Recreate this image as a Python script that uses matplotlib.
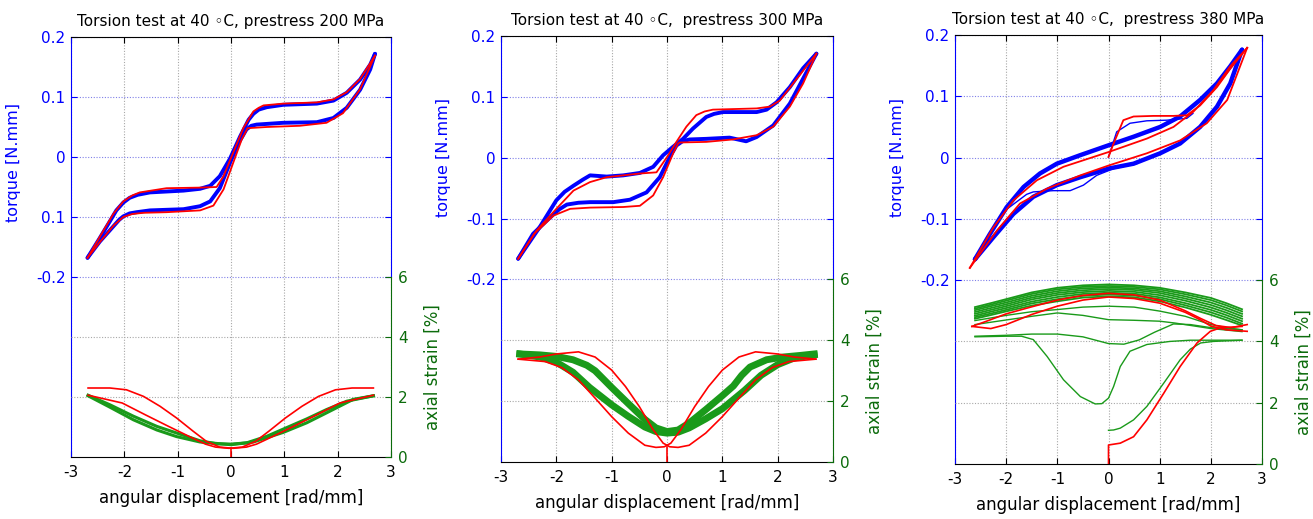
import matplotlib
matplotlib.use("Agg")
import matplotlib.pyplot as plt

BLUE = "#0000ff"
RED = "#ff0000"
GREEN = "#1a9a1a"
DGREEN = "#0b6b0b"

titles = ["Torsion test at 40 \u25e6C, prestress 200 MPa",
          "Torsion test at 40 \u25e6C,  prestress 300 MPa",
          "Torsion test at 40 \u25e6C,  prestress 380 MPa"]
x_ticks = [-3, -2, -1, 0, 1, 2, 3]
x_ticklabels = ["-3", "-2", "-1", "0", "1", "2", "3"]
torque_ticks = [-0.2, -0.1, 0, 0.1, 0.2]
torque_labels_p1 = ["-0.2", "0.1", "0", "0.1", "0.2"]
torque_labels = ["-0.2", "-0.1", "0", "0.1", "0.2"]
strain_ticks = [0, 2, 4, 6]
strain_labels = ["0", "2", "4", "6"]

# ---------------- Panel 1 (200 MPa) torque ----------------
p1_blue_upper = ([-2.69, -2.46, -2.27, -2.15, -2.02, -1.9, -1.75, -1.52, -0.89, -0.58, -0.39, -0.21, -0.02, 0.17, 0.33, 0.42, 0.52, 0.67, 0.98, 1.61, 1.92, 2.17, 2.42, 2.61, 2.7],
                 [-0.168, -0.135, -0.107, -0.089, -0.076, -0.068, -0.063, -0.059, -0.056, -0.053, -0.048, -0.032, -0.003, 0.034, 0.062, 0.072, 0.079, 0.083, 0.087, 0.089, 0.094, 0.107, 0.129, 0.154, 0.172])
p1_blue_lower = ([-2.69, -2.46, -2.21, -2.1, -2.02, -1.9, -1.77, -1.52, -0.89, -0.58, -0.39, -0.21, -0.02, 0.14, 0.29, 0.38, 0.48, 0.98, 1.61, 1.92, 2.17, 2.42, 2.61, 2.7],
                 [-0.168, -0.141, -0.116, -0.105, -0.099, -0.094, -0.092, -0.089, -0.087, -0.082, -0.074, -0.052, -0.010, 0.023, 0.046, 0.052, 0.054, 0.057, 0.058, 0.065, 0.082, 0.112, 0.146, 0.172])
p1_red_upper = ([-2.69, -2.46, -2.2, -2.02, -1.85, -1.71, -1.21, -0.58, -0.27, -0.14, 0.04, 0.23, 0.42, 0.52, 0.61, 0.98, 1.61, 1.92, 2.17, 2.42, 2.7],
                [-0.168, -0.133, -0.094, -0.074, -0.064, -0.059, -0.052, -0.051, -0.050, -0.032, 0.007, 0.048, 0.076, 0.082, 0.086, 0.089, 0.091, 0.096, 0.108, 0.130, 0.169])
p1_red_lower = ([-2.69, -2.46, -2.2, -2.02, -1.85, -1.64, -1.21, -0.58, -0.33, -0.14, 0.04, 0.20, 0.31, 0.67, 1.29, 1.79, 2.10, 2.42, 2.7],
                [-0.168, -0.142, -0.114, -0.100, -0.095, -0.093, -0.092, -0.089, -0.081, -0.054, -0.010, 0.029, 0.048, 0.050, 0.052, 0.057, 0.073, 0.113, 0.169])

# ---------------- Panel 1 strain ----------------
p1_green_a = ([-2.68, -2.27, -1.83, -1.39, -1.02, -0.58, -0.27, 0.0, 0.29, 0.67, 0.98, 1.42, 1.79, 2.17, 2.67],
              [2.06, 1.74, 1.36, 1.02, 0.80, 0.54, 0.44, 0.43, 0.47, 0.69, 0.93, 1.27, 1.58, 1.86, 2.04])
p1_green_b = ([-2.68, -2.27, -1.83, -1.39, -1.02, -0.58, 0.0, 0.42, 0.98, 1.42, 1.79, 2.29, 2.67],
              [2.04, 1.66, 1.24, 0.90, 0.68, 0.50, 0.41, 0.50, 0.82, 1.14, 1.47, 1.92, 2.04])
p1_red_a = ([-2.68, -2.27, -1.96, -1.64, -1.33, -1.02, -0.71, -0.46, -0.21, 0.04, 0.29, 0.48, 0.79, 1.17, 1.61, 2.04, 2.67],
            [2.30, 2.30, 2.24, 2.02, 1.69, 1.30, 0.86, 0.52, 0.33, 0.29, 0.33, 0.43, 0.69, 1.02, 1.41, 1.80, 2.06])
p1_red_b = ([-2.68, -2.04, -1.61, -1.17, -0.79, -0.48, -0.29, -0.04, 0.21, 0.46, 0.71, 1.02, 1.33, 1.64, 1.96, 2.27, 2.67],
            [2.06, 1.80, 1.41, 1.02, 0.69, 0.43, 0.33, 0.29, 0.33, 0.52, 0.86, 1.30, 1.69, 2.02, 2.24, 2.30, 2.30])
p1_red_start = ([0.0, 0.0], [0.0, 0.29])

# ---------------- Panel 2 (300 MPa) torque ----------------
p2_blue_upper = ([-2.69, -2.3, -2.0, -1.85, -1.69, -1.52, -1.39, -1.09, -0.79, -0.49, -0.25, -0.07, 0.11, 0.29, 0.47, 0.71, 0.85, 1.01, 1.62, 1.8, 1.98, 2.22, 2.46, 2.7],
                 [-0.166, -0.114, -0.070, -0.056, -0.046, -0.036, -0.029, -0.031, -0.029, -0.025, -0.015, 0.004, 0.018, 0.031, 0.048, 0.067, 0.072, 0.075, 0.075, 0.079, 0.091, 0.116, 0.147, 0.171])
p2_blue_lower = ([-2.69, -2.42, -2.11, -1.95, -1.81, -1.6, -1.39, -0.97, -0.67, -0.37, -0.13, 0.05, 0.17, 0.28, 0.41, 0.71, 1.13, 1.43, 1.62, 1.92, 2.22, 2.46, 2.7],
                 [-0.166, -0.125, -0.098, -0.085, -0.077, -0.074, -0.073, -0.073, -0.069, -0.057, -0.032, 0.001, 0.020, 0.027, 0.030, 0.031, 0.033, 0.027, 0.034, 0.053, 0.089, 0.130, 0.171])
p2_red_upper = ([-2.69, -2.36, -2.0, -1.69, -1.39, -1.09, -0.49, -0.19, 0.0, 0.17, 0.35, 0.53, 0.68, 0.83, 1.62, 1.86, 2.04, 2.28, 2.7],
                [-0.166, -0.120, -0.084, -0.054, -0.040, -0.032, -0.026, -0.024, 0.001, 0.026, 0.051, 0.070, 0.076, 0.079, 0.081, 0.084, 0.094, 0.122, 0.171])
p2_red_lower = ([-2.69, -2.4, -2.05, -1.75, -1.39, -0.79, -0.49, -0.25, -0.07, 0.11, 0.2, 0.23, 0.71, 1.19, 1.62, 1.92, 2.22, 2.46, 2.7],
                [-0.166, -0.125, -0.095, -0.084, -0.082, -0.081, -0.079, -0.062, -0.032, 0.007, 0.023, 0.025, 0.026, 0.030, 0.037, 0.051, 0.084, 0.122, 0.171])

# ---------------- Panel 2 strain ----------------
p2_green_a = ([-2.66, -2.3, -2.0, -1.7, -1.45, -1.3, -1.0, -0.7, -0.4, -0.2, 0.0, 0.2, 0.4, 0.7, 1.0, 1.2, 1.35, 1.5, 1.8, 2.1, 2.4, 2.66],
              [3.55, 3.52, 3.47, 3.36, 3.18, 3.00, 2.45, 1.92, 1.40, 1.12, 1.00, 1.05, 1.28, 1.72, 2.18, 2.50, 2.85, 3.12, 3.36, 3.45, 3.50, 3.55])
p2_green_b = ([-2.66, -2.3, -2.0, -1.7, -1.4, -1.0, -0.7, -0.4, -0.2, 0.0, 0.2, 0.4, 0.7, 1.0, 1.4, 1.7, 2.0, 2.3, 2.66],
              [3.55, 3.45, 3.28, 2.95, 2.45, 1.88, 1.50, 1.15, 1.00, 0.95, 0.98, 1.12, 1.42, 1.75, 2.35, 2.85, 3.20, 3.42, 3.52])
p2_red_a = ([-2.69, -2.3, -2.0, -1.6, -1.3, -1.0, -0.75, -0.5, -0.25, -0.07, 0.05, 0.2, 0.4, 0.7, 1.0, 1.3, 1.6, 1.9, 2.2, 2.69],
            [3.38, 3.45, 3.55, 3.62, 3.45, 3.02, 2.48, 1.82, 1.06, 0.62, 0.50, 0.48, 0.55, 0.95, 1.49, 2.10, 2.70, 3.10, 3.30, 3.38])
p2_red_b = ([-2.69, -2.2, -1.9, -1.6, -1.3, -1.0, -0.7, -0.4, -0.2, -0.05, 0.07, 0.25, 0.5, 0.75, 1.0, 1.3, 1.6, 2.0, 2.3, 2.69],
            [3.38, 3.30, 3.10, 2.70, 2.10, 1.49, 0.95, 0.55, 0.48, 0.50, 0.62, 1.06, 1.82, 2.48, 3.02, 3.45, 3.62, 3.55, 3.45, 3.38])
p2_red_start = ([0.0, 0.0], [0.0, 0.48])

# ---------------- Panel 3 (380 MPa) torque ----------------
p3_blue_upper = ([-2.61, -2.32, -1.99, -1.66, -1.34, -1.01, -0.55, 0.0, 0.49, 1.01, 1.4, 1.79, 2.12, 2.38, 2.61],
                 [-0.166, -0.125, -0.081, -0.048, -0.026, -0.010, 0.004, 0.020, 0.034, 0.050, 0.067, 0.094, 0.121, 0.149, 0.176])
p3_blue_lower = ([-2.61, -2.25, -1.86, -1.47, -1.01, -0.55, 0.0, 0.49, 1.01, 1.4, 1.79, 2.12, 2.38, 2.61],
                 [-0.166, -0.130, -0.092, -0.064, -0.045, -0.032, -0.018, -0.010, 0.007, 0.023, 0.050, 0.083, 0.121, 0.176])
p3_blue_first = ([0.0, 0.16, 0.42, 0.75, 1.14, 1.53, 1.65],
                 [0.001, 0.042, 0.056, 0.060, 0.061, 0.064, 0.072])
p3_blue_bump = ([-2.0, -1.6, -1.47, -1.08, -0.75, -0.49, -0.23, 0.1, 0.55],
                [-0.085, -0.060, -0.056, -0.054, -0.054, -0.045, -0.029, -0.018, -0.010])
p3_red_first = ([0.0, 0.1, 0.29, 0.49, 0.88, 1.27, 1.53, 1.79, 2.12, 2.38, 2.71],
                [0.001, 0.023, 0.061, 0.067, 0.068, 0.068, 0.069, 0.085, 0.115, 0.145, 0.179])
p3_red_upper = ([-2.71, -2.25, -1.86, -1.4, -0.88, 0.0, 0.75, 1.27, 1.66, 2.05, 2.38, 2.71],
                [-0.180, -0.114, -0.070, -0.037, -0.015, 0.009, 0.031, 0.050, 0.075, 0.110, 0.149, 0.179])
p3_red_lower = ([-2.71, -2.18, -1.73, -1.21, -0.55, 0.0, 0.75, 1.4, 1.92, 2.32, 2.71],
                [-0.180, -0.119, -0.075, -0.051, -0.029, -0.013, 0.007, 0.028, 0.056, 0.094, 0.179])

# ---------------- Panel 3 strain ----------------
p3_band_x = [-2.61, -2.3, -2.0, -1.5, -1.0, -0.5, 0.0, 0.5, 1.0, 1.5, 2.0, 2.3, 2.61]
p3_band_1 = [5.12, 5.25, 5.38, 5.60, 5.75, 5.83, 5.86, 5.83, 5.75, 5.60, 5.42, 5.25, 5.05]
p3_band_2 = [5.07, 5.20, 5.33, 5.55, 5.70, 5.78, 5.81, 5.78, 5.70, 5.54, 5.35, 5.18, 4.98]
p3_band_3 = [5.02, 5.15, 5.27, 5.49, 5.64, 5.73, 5.76, 5.73, 5.64, 5.47, 5.27, 5.10, 4.90]
p3_band_4 = [4.96, 5.09, 5.21, 5.43, 5.58, 5.67, 5.71, 5.68, 5.58, 5.40, 5.19, 5.02, 4.82]
p3_band_5 = [4.90, 5.03, 5.15, 5.37, 5.52, 5.61, 5.65, 5.62, 5.51, 5.33, 5.11, 4.94, 4.74]
p3_band_6 = [4.84, 4.97, 5.09, 5.30, 5.45, 5.55, 5.59, 5.56, 5.44, 5.25, 5.03, 4.86, 4.66]
p3_band_7 = [4.79, 4.91, 5.03, 5.24, 5.38, 5.49, 5.53, 5.50, 5.38, 5.18, 4.95, 4.78, 4.58]
p3_band_8 = [4.74, 4.86, 4.98, 5.17, 5.31, 5.43, 5.47, 5.44, 5.31, 5.11, 4.87, 4.70, 4.52]
p3_thin_1 = ([-2.61, -2.0, -1.5, -1.0, -0.5, 0.0, 0.5, 1.0, 1.5, 2.0, 2.3, 2.61],
             [4.68, 4.85, 4.97, 5.04, 5.12, 5.15, 5.12, 4.99, 4.82, 4.55, 4.45, 4.38])
p3_thin_2 = ([-2.61, -2.0, -1.5, -1.0, -0.5, 0.0, 0.5, 1.0, 1.3, 2.0, 2.61],
             [4.55, 4.70, 4.82, 4.93, 4.85, 4.71, 4.69, 4.66, 4.60, 4.42, 4.32])
p3_thin_dip = ([-2.61, -2.0, -1.5, -1.0, -0.5, 0.0, 0.3, 0.6, 0.9, 1.27, 1.6, 2.0, 2.61],
               [4.17, 4.20, 4.24, 4.24, 4.15, 3.93, 3.91, 4.05, 4.30, 4.57, 4.55, 4.45, 4.38])
p3_thin_deep = ([-2.61, -2.0, -1.7, -1.47, -1.2, -0.88, -0.55, -0.26, -0.13, 0.0, 0.1, 0.23, 0.42, 0.75, 1.2, 1.6, 2.0, 2.61],
                [4.15, 4.17, 4.17, 4.06, 3.51, 2.75, 2.20, 1.96, 1.97, 2.15, 2.53, 3.18, 3.68, 3.90, 4.00, 4.04, 4.04, 4.04])
p3_green_first = ([0.0, 0.1, 0.23, 0.49, 0.75, 1.08, 1.4, 1.6, 1.8, 2.05, 2.61],
                  [1.10, 1.11, 1.17, 1.44, 1.88, 2.64, 3.40, 3.75, 3.95, 4.00, 4.04])
p3_red_first_s = ([0.0, 0.0, 0.23, 0.49, 0.75, 1.08, 1.4, 1.73, 1.99, 2.18, 2.61],
                  [0.0, 0.62, 0.68, 0.89, 1.44, 2.31, 3.18, 3.95, 4.33, 4.44, 4.49])
p3_red_loop_a = ([2.71, 2.4, 2.1, 1.8, 1.5, 1.0, 0.5, 0.0, -0.5, -1.0, -1.5, -2.0, -2.4, -2.67],
                 [4.55, 4.45, 4.52, 4.75, 5.00, 5.35, 5.52, 5.57, 5.50, 5.35, 5.13, 4.90, 4.65, 4.49])
p3_red_loop_b = ([-2.67, -2.3, -2.0, -1.5, -1.0, -0.5, 0.0, 0.5, 1.0, 1.5, 1.8, 2.0, 2.3, 2.71],
                 [4.49, 4.42, 4.55, 4.88, 5.15, 5.35, 5.45, 5.40, 5.25, 4.95, 4.70, 4.50, 4.38, 4.33])

fig = plt.figure(figsize=(13.13, 5.19), dpi=100)
W, H = 1313.0, 519.0


def make_axes(left, right, top, bottom, title, tlabels, ylab_y):
    ax = fig.add_axes([left / W, 1 - bottom / H, (right - left) / W, (bottom - top) / H])
    ax.set_xlim(-3, 3)
    ax.set_ylim(-0.5, 0.2)
    ax2 = ax.twinx()
    ax2.set_ylim(0, 14)
    ax.set_xticks(x_ticks)
    ax.set_xticklabels(x_ticklabels)
    ax.set_yticks(torque_ticks)
    ax.set_yticklabels(tlabels)
    ax2.set_yticks(strain_ticks)
    ax2.set_yticklabels(strain_labels)
    ax.tick_params(axis="x", direction="in", top=True, length=4, labelsize=11,
                   colors="black", pad=6)
    ax.tick_params(axis="y", direction="in", left=True, right=True, labelright=False,
                   length=4, labelsize=11, colors=BLUE, pad=4)
    ax2.tick_params(axis="y", direction="in", length=4, labelsize=11, colors=DGREEN, pad=5)
    for s in ["top", "bottom"]:
        ax.spines[s].set_color("black")
    ax.spines["left"].set_color(BLUE)
    ax.spines["right"].set_color(BLUE)
    ax.spines["right"].set_bounds(-0.2, 0.2)
    for s in ["top", "bottom", "left"]:
        ax2.spines[s].set_visible(False)
    ax2.spines["right"].set_color(DGREEN)
    ax2.spines["right"].set_bounds(0, 6)
    ax.grid(axis="x", ls=(0, (1, 1.5)), color="#a8a8a8", lw=0.8)
    ax.grid(axis="y", ls=(0, (1, 1.5)), color="#8080e8", lw=0.8)
    for v in [2, 4]:
        ax2.axhline(v, ls=(0, (1, 1.5)), color="#a8a8a8", lw=0.8, zorder=0)
    ax.set_title(title, fontsize=11, pad=8)
    ax.set_xlabel("angular displacement [rad/mm]", fontsize=12, labelpad=6)
    ax.set_ylabel("torque [N.mm]", fontsize=11.5, color=BLUE)
    ax.yaxis.set_label_coords(-50.0 / (right - left), ylab_y)
    ax2.set_ylabel("axial strain [%]", fontsize=12, color=DGREEN)
    ax2.yaxis.set_label_coords(1 + 33.0 / (right - left), 3.0 / 14)
    return ax, ax2


# Panel 1
ax, ax2 = make_axes(71, 391, 37, 457, titles[0], torque_labels_p1, 0.70)
for c in [p1_blue_upper, p1_blue_lower]:
    ax.plot(c[0], c[1], color=BLUE, lw=2.8, solid_capstyle="round", solid_joinstyle="round")
for c in [p1_red_upper, p1_red_lower]:
    ax.plot(c[0], c[1], color=RED, lw=1.3)
for c in [p1_green_a, p1_green_b]:
    ax2.plot(c[0], c[1], color=GREEN, lw=2.2, solid_joinstyle="round")
for c in [p1_red_a, p1_red_b, p1_red_start]:
    ax2.plot(c[0], c[1], color=RED, lw=1.2)

# Panel 2
ax, ax2 = make_axes(501, 833, 36, 462, titles[1], torque_labels, 0.714)
for c in [p2_blue_upper, p2_blue_lower]:
    ax.plot(c[0], c[1], color=BLUE, lw=2.8, solid_capstyle="round", solid_joinstyle="round")
for c in [p2_red_upper, p2_red_lower]:
    ax.plot(c[0], c[1], color=RED, lw=1.3)
for c in [p2_green_a, p2_green_b]:
    ax2.plot(c[0], c[1], color=GREEN, lw=5.0, solid_joinstyle="round")
for c in [p2_red_a, p2_red_b, p2_red_start]:
    ax2.plot(c[0], c[1], color=RED, lw=1.2)

# Panel 3
ax, ax2 = make_axes(955, 1262, 35, 464, titles[2], torque_labels, 0.714)
for c in [p3_blue_upper, p3_blue_lower]:
    ax.plot(c[0], c[1], color=BLUE, lw=3.2, solid_capstyle="round", solid_joinstyle="round")
for c in [p3_blue_first, p3_blue_bump]:
    ax.plot(c[0], c[1], color=BLUE, lw=1.0)
for c in [p3_red_first, p3_red_upper, p3_red_lower]:
    ax.plot(c[0], c[1], color=RED, lw=1.3)
for band in [p3_band_1, p3_band_2, p3_band_3, p3_band_4, p3_band_5, p3_band_6, p3_band_7, p3_band_8]:
    ax2.plot(p3_band_x, band, color=GREEN, lw=1.3)
for c in [p3_thin_1, p3_thin_2, p3_thin_dip, p3_thin_deep, p3_green_first]:
    ax2.plot(c[0], c[1], color=GREEN, lw=1.0)
for c in [p3_red_first_s, p3_red_loop_a, p3_red_loop_b]:
    ax2.plot(c[0], c[1], color=RED, lw=1.2)

fig.savefig("out.png", dpi=100)
